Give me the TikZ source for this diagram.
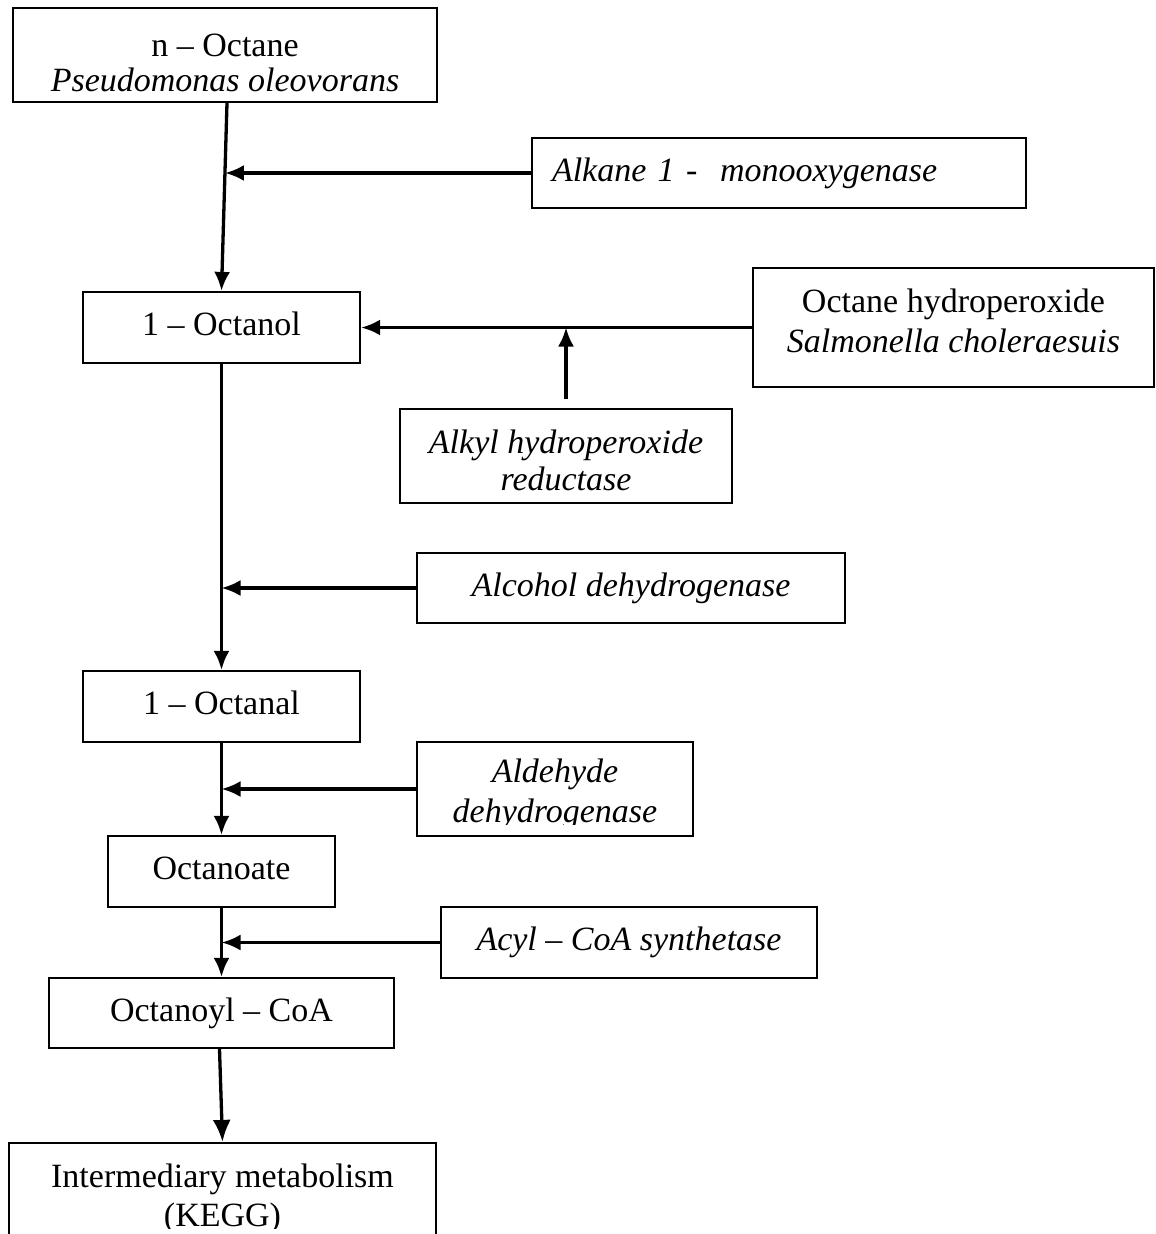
\documentclass[tikz,border=0pt]{standalone}
\usepackage{fontspec}
\setmainfont{Liberation Serif}
\usetikzlibrary{arrows.meta,calc}
\begin{document}
\begin{tikzpicture}[x=1pt,y=-1pt,
  txt/.style={font=\fontsize{34}{39}\selectfont},
  ital/.style={font=\fontsize{34}{39}\selectfont\itshape},
  one/.style={text height=23.5pt, text depth=7.5pt},
  box/.style={draw, line width=2.2pt, inner sep=0pt, align=center},
  lines/.style={align=center, inner sep=0pt, anchor=north},
  arr/.style={line width=3.3pt, -{Latex[length=19pt,width=16pt]}},
  bigarr/.style={line width=3.3pt, -{Latex[length=22pt,width=18pt]}}]
\useasboundingbox (0,0) rectangle (1156,1234);
% main chain boxes
\node[box, minimum width=424pt, minimum height=94pt] (oct) at (225,55) {};
\node[lines, font=\fontsize{34}{35}\selectfont] (octtxt) at (225,33.6)
  {n – Octane\\\textit{Pseudomonas oleovorans}};
\node[box, txt, one, minimum width=277pt, minimum height=71pt] (octanol) at (221.5,327.5) {1 – Octanol};
\node[box, txt, one, minimum width=277pt, minimum height=71pt] (octanal) at (221.5,706.5) {1 – Octanal};
\node[box, txt, one, minimum width=227pt, minimum height=71pt] (octanoate) at (221.5,871.5) {Octanoate};
\node[box, txt, one, minimum width=345pt, minimum height=70pt] (octanoyl) at (221.5,1013) {Octanoyl – CoA};
\node[box, minimum width=427pt, minimum height=117pt] (inter) at (222.5,1201.5) {};
\begin{scope}
  \clip (inter.north west) rectangle (436,1228);
  \node[lines, txt] (intertxt) at (222.5,1163.5)
    {Intermediary metabolism\\(KEGG)};
\end{scope}
% side boxes
\node[box, ital, one, align=left, text width=454pt, inner xsep=20pt, minimum height=70pt] (alk) at (779,173)
  {Alkane 1 -\ \ monooxygenase};
\node[box, minimum width=401pt, minimum height=119pt] (hyd) at (953.5,327.5) {};
\node[lines, font=\fontsize{34}{40}\selectfont] (hydtxt) at (953.5,288.6)
  {Octane hydroperoxide\\\textit{Salmonella choleraesuis}};
\node[box, minimum width=332pt, minimum height=94pt] (ahr) at (566,456) {};
\node[lines, font=\fontsize{34}{37}\selectfont\itshape] (ahrtxt) at (566,429.6)
  {Alkyl hydroperoxide\\reductase};
\node[box, ital, one, minimum width=428pt, minimum height=70pt] (adh) at (631,588) {Alcohol dehydrogenase};
\node[box, minimum width=276pt, minimum height=94pt] (ald) at (555,789) {};
\begin{scope}
  \clip (ald.north west) rectangle ([yshift=13pt]ald.south east);
  \node[lines, font=\fontsize{34}{40}\selectfont\itshape] (aldtxt) at (555,758.8)
    {Aldehyde\\dehydrogenase};
\end{scope}
\node[box, ital, one, minimum width=376pt, minimum height=71pt] (acyl) at (629,942.5) {Acyl – CoA synthetase};
% connectors
\draw[arr] ([xshift=2pt]oct.south) -- (octanol.north) coordinate[pos=0.374] (j1);
\draw[arr] (alk.west) -- (alk.west -| j1);
\draw[arr] (hyd.west) -- (octanol.east);
\draw[arr] ([yshift=9pt]ahr.north) -- (ahr.north |- octanol.east);
\draw[arr] (octanol.south) -- (octanal.north);
\draw[arr] (adh.west) -- (adh.west -| octanol.south);
\draw[arr] (octanal.south) -- (octanoate.north);
\draw[arr] (ald.west) -- (ald.west -| octanal.south);
\draw[arr] (octanoate.south) -- (octanoyl.north);
\draw[arr] (acyl.west) -- (acyl.west -| octanoate.south);
\draw[bigarr] ([xshift=-2pt]octanoyl.south) -- (inter.north);
\end{tikzpicture}
\end{document}
